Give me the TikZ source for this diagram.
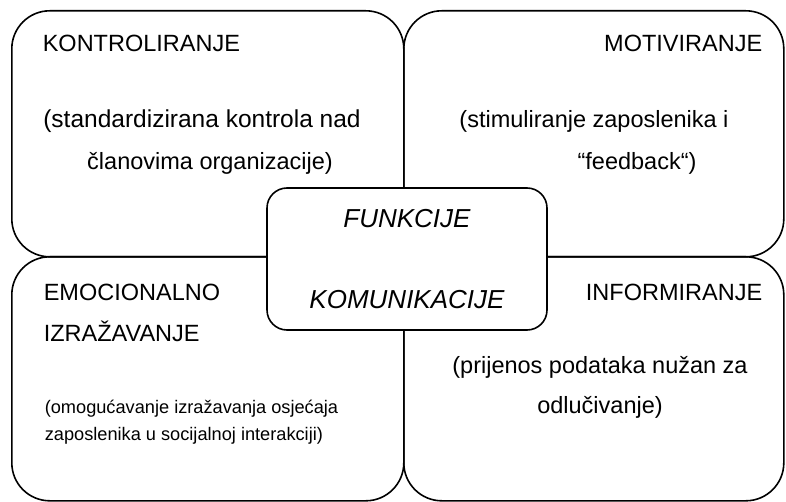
\documentclass[tikz,border=0pt]{standalone}
\usepackage{fontspec}
\setmainfont{Liberation Sans}
\usetikzlibrary{positioning}

\begin{document}
\begin{tikzpicture}[x=1pt,y=-1pt,line width=1.6pt,
    quad/.style={draw=black,rounded corners=38pt,anchor=north west,inner sep=0pt},
    big/.style={font=\fontsize{23.5}{28}\selectfont,inner sep=0pt},
    small/.style={font=\fontsize{18.2}{22}\selectfont,inner sep=0pt}]
            \useasboundingbox(0,0)rectangle(786,502);
            % four function boxes
            \node[quad,minimum width=392pt,minimum height=246pt](Kontr)at(11, 10){};
            \node[quad,minimum width=380pt,minimum height=246pt](Motiv)at(403, 10){};
            \node[quad,minimum width=392pt,minimum height=244pt](Emoc)at(11, 256){};
            \node[quad,minimum width=380pt,minimum height=244pt](Inform)at(403, 256){};
            % centre box
            \node[draw=black,fill=white,rounded corners=20pt,minimum width=280pt,minimum height=142pt](Funk)at(407, 259){};
            % texts
            \node[big,anchor=base west](KontrT)at(42, 52){KONTROLIRANJE};
            \node[big,font=\fontsize{24.5}{28}\selectfont,anchor=base](KontrA)at(202, 128){(standardizirana kontrola nad};
            \node[big,anchor=base](KontrB)at(210, 170){članovima organizacije)};
            \node[big,anchor=base east](MotivT)at(763, 52){MOTIVIRANJE};
            \node[big,anchor=base](MotivA)at(594, 128){(stimuliranje zaposlenika i};
            \node[big,anchor=base](MotivB)at(637, 170){“feedback“)};
            \node[big,anchor=base west](EmocT)at(43, 301){EMOCIONALNO};
            \node[big,anchor=base west](EmocU)at(43, 341){IZRAŽAVANJE};
            \node[small,anchor=base west](EmocA)at(44, 413){(omogućavanje izražavanja osjećaja};
            \node[small,anchor=base west](EmocB)at(44, 440){zaposlenika u socijalnoj interakciji)};
            \node[big,anchor=base east](InformT)at(763, 300){INFORMIRANJE};
            \node[big,anchor=base](InformA)at(600, 373){(prijenos podataka nužan za};
            \node[big,anchor=base](InformB)at(600, 413){odlučivanje)};
            \node[big,font=\fontsize{26}{30}\selectfont\itshape,anchor=base](FunkA)at(407, 228){FUNKCIJE};
            \node[big,font=\fontsize{26}{30}\selectfont\itshape,anchor=base](FunkB)at(407, 308){KOMUNIKACIJE};
        \end{tikzpicture}
\end{document}
